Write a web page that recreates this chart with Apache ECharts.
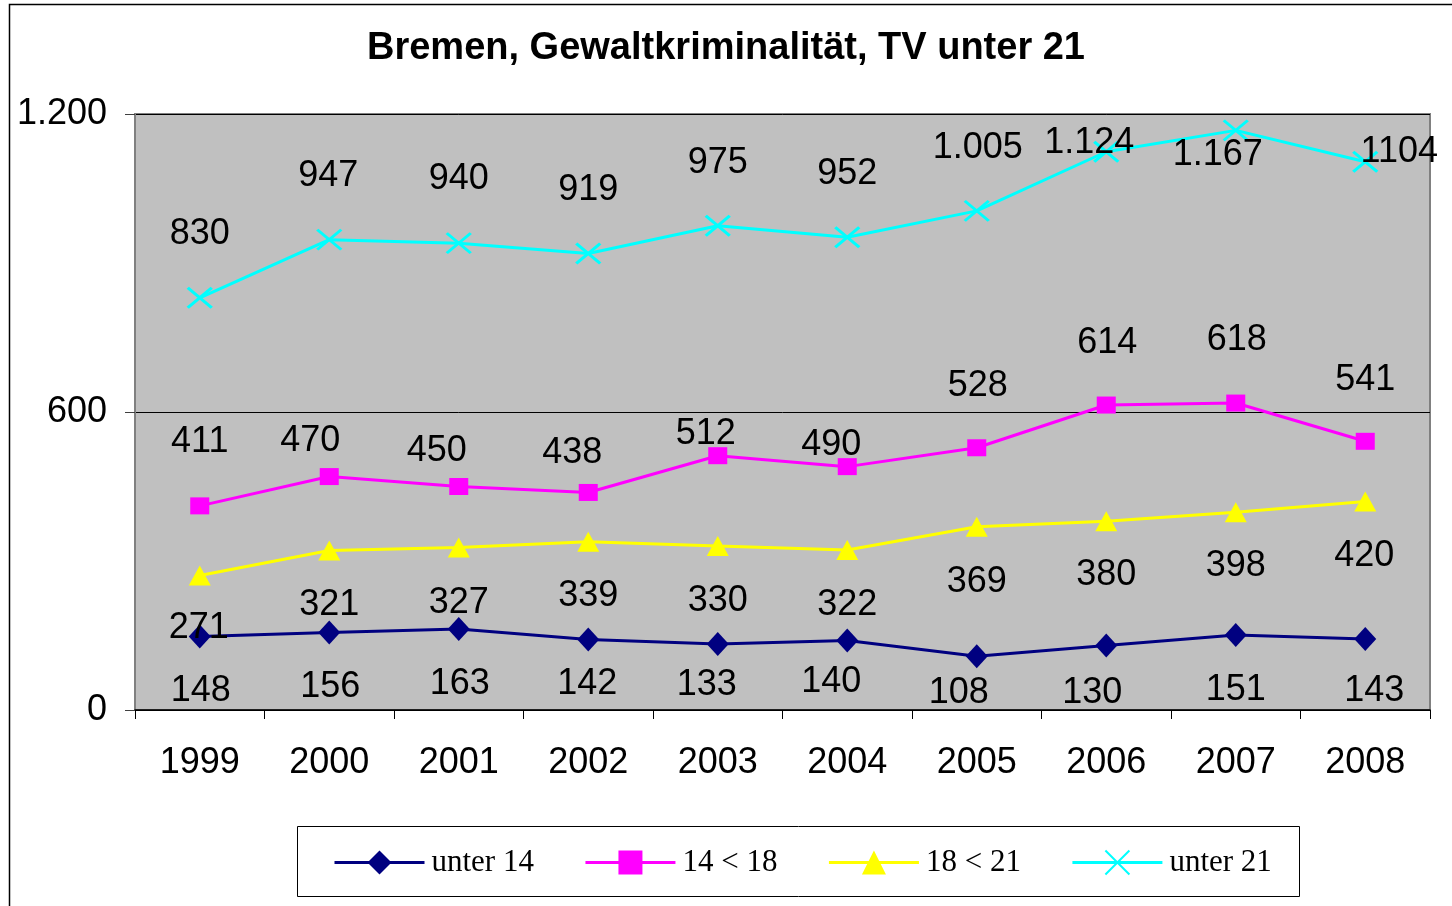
<!DOCTYPE html>
<html>
<head>
<meta charset="utf-8">
<title>Bremen, Gewaltkriminalität, TV unter 21</title>
<script src="https://cdn.jsdelivr.net/npm/echarts@6/dist/echarts.min.js"></script>
<style>
  html, body { margin: 0; padding: 0; background: #ffffff; }
  #chart { width: 1452px; height: 906px; }
</style>
</head>
<body>
<div id="chart"></div>
<script>
// Tatverdächtige (TV) Gewaltkriminalität in Bremen nach Altersgruppe
const years = ['1999', '2000', '2001', '2002', '2003', '2004', '2005', '2006', '2007', '2008'];
const unter14 = [148, 156, 163, 142, 133, 140, 108, 130, 151, 143];
const von14bis18 = [411, 470, 450, 438, 512, 490, 528, 614, 618, 541];
const von18bis21 = [271, 321, 327, 339, 330, 322, 369, 380, 398, 420];
const unter21 = [830, 947, 940, 919, 975, 952, 1005, 1124, 1167, 1104];
const seriesNames = ['unter 14', '14 < 18', '18 < 21', 'unter 21'];
const yTicks = [0, 600, 1200];

// German thousands separator
const fmt = v => String(v).replace(/\B(?=(\d{3})+(?!\d))/g, '.');

// label placement (centre offset from the point, in px)
const labelOffsets = {
  'unter 14': [[1, 55], [1, 55], [1, 55], [-1, 45], [-11, 41], [-16, 42], [-18, 37], [-14, 48], [0, 55], [9, 52]],
  '14 < 18': [[0, -64], [-19, -35], [-22, -35], [-16, -39], [-12, -22], [-16, -22], [1, -62], [1, -62], [1, -63], [0, -61]],
  '18 < 21': [[-1, 53], [0, 55], [0, 55], [0, 54], [0, 55], [0, 55], [0, 55], [0, 54], [0, 54], [-1, 55]],
  'unter 21': [[0, -64], [-1, -64], [0, -64], [0, -63], [0, -63], [0, -63], [1, -63], [-17, -9], [-18, 25], [34, -10]]
};
// the last value of the total row is printed without separator
const plainLabel = { 'unter 21': [9] };

function buildData(name, values) {
  return values.map((v, i) => {
    const plain = (plainLabel[name] || []).indexOf(i) >= 0;
    return {
      value: v,
      label: {
        offset: labelOffsets[name][i],
        formatter: plain ? String(v) : fmt(v)
      }
    };
  });
}

const labelFont = {
  show: true,
  position: 'inside',
  color: '#000000',
  fontFamily: 'Liberation Sans, Arial, sans-serif',
  fontSize: 36
};

const crossPath = 'path://M0,0L20,20M20,0L0,20';

const chart = echarts.init(document.getElementById('chart'), null, { renderer: 'canvas' });

chart.setOption({
  animation: false,
  backgroundColor: '#ffffff',
  title: {
    text: 'Bremen, Gewaltkriminalität, TV unter 21',
    left: 'center',
    top: 25,
    textStyle: {
      fontFamily: 'Liberation Sans, Arial, sans-serif',
      fontWeight: 'bold',
      fontSize: 38,
      color: '#000000'
    }
  },
  graphic: [
    {
      type: 'rect',
      left: 7, top: 2,
      shape: { width: 1470, height: 930 },
      style: { fill: 'none', stroke: '#000000', lineWidth: 1.5 },
      silent: true
    },
    {
      type: 'rect',
      left: 297, top: 826,
      shape: { width: 1002, height: 70 },
      style: { fill: '#ffffff', stroke: '#000000', lineWidth: 1 },
      silent: true,
      z: 0
    }
  ],
  legend: {
    left: 328,
    top: 842,
    itemWidth: 90,
    itemHeight: 30,
    itemGap: 50,
    lineStyle: { width: 3 },
    textStyle: {
      fontFamily: 'Liberation Serif, Times New Roman, serif',
      fontSize: 31,
      color: '#000000',
      padding: [0, 0, 0, 2]
    },
    data: seriesNames
  },
  grid: {
    left: 135,
    top: 114,
    right: 22,
    bottom: 196,
    show: true,
    backgroundColor: '#c0c0c0',
    borderColor: '#808080',
    borderWidth: 2
  },
  xAxis: {
    type: 'category',
    data: years,
    boundaryGap: true,
    axisLine: { show: true, lineStyle: { color: '#000000', width: 1.5 } },
    axisTick: { show: true, length: 9, lineStyle: { color: '#000000' } },
    axisLabel: {
      margin: 35,
      color: '#000000',
      fontFamily: 'Liberation Sans, Arial, sans-serif',
      fontSize: 36
    }
  },
  yAxis: {
    type: 'value',
    min: yTicks[0],
    max: yTicks[yTicks.length - 1],
    interval: yTicks[1] - yTicks[0],
    axisLine: { show: true, lineStyle: { color: '#808080', width: 2 } },
    axisTick: { show: true, length: 10, lineStyle: { color: '#404040' } },
    splitLine: { show: true, lineStyle: { color: '#000000', width: 1 } },
    axisLabel: {
      margin: 28,
      color: '#000000',
      fontFamily: 'Liberation Sans, Arial, sans-serif',
      fontSize: 36,
      formatter: v => fmt(v)
    }
  },
  series: [
    {
      name: seriesNames[0],
      type: 'line',
      data: buildData(seriesNames[0], unter14),
      symbol: 'diamond',
      symbolSize: [22, 24],
      lineStyle: { color: '#000080', width: 3 },
      itemStyle: { color: '#000080' },
      label: labelFont,
      z: 4
    },
    {
      name: seriesNames[1],
      type: 'line',
      data: buildData(seriesNames[1], von14bis18),
      symbol: 'rect',
      symbolSize: [19, 17],
      lineStyle: { color: '#ff00ff', width: 3 },
      itemStyle: { color: '#ff00ff' },
      label: labelFont,
      z: 4
    },
    {
      name: seriesNames[2],
      type: 'line',
      data: buildData(seriesNames[2], von18bis21),
      symbol: 'triangle',
      symbolSize: [22, 20],
      lineStyle: { color: '#ffff00', width: 3 },
      itemStyle: { color: '#ffff00' },
      label: labelFont,
      z: 4
    },
    {
      name: seriesNames[3],
      type: 'line',
      data: buildData(seriesNames[3], unter21),
      symbol: crossPath,
      symbolSize: [24, 20],
      lineStyle: { color: '#00ffff', width: 3 },
      itemStyle: { color: '#00ffff', borderColor: '#00ffff', borderWidth: 3 },
      label: labelFont,
      z: 4
    }
  ]
});
</script>
</body>
</html>
